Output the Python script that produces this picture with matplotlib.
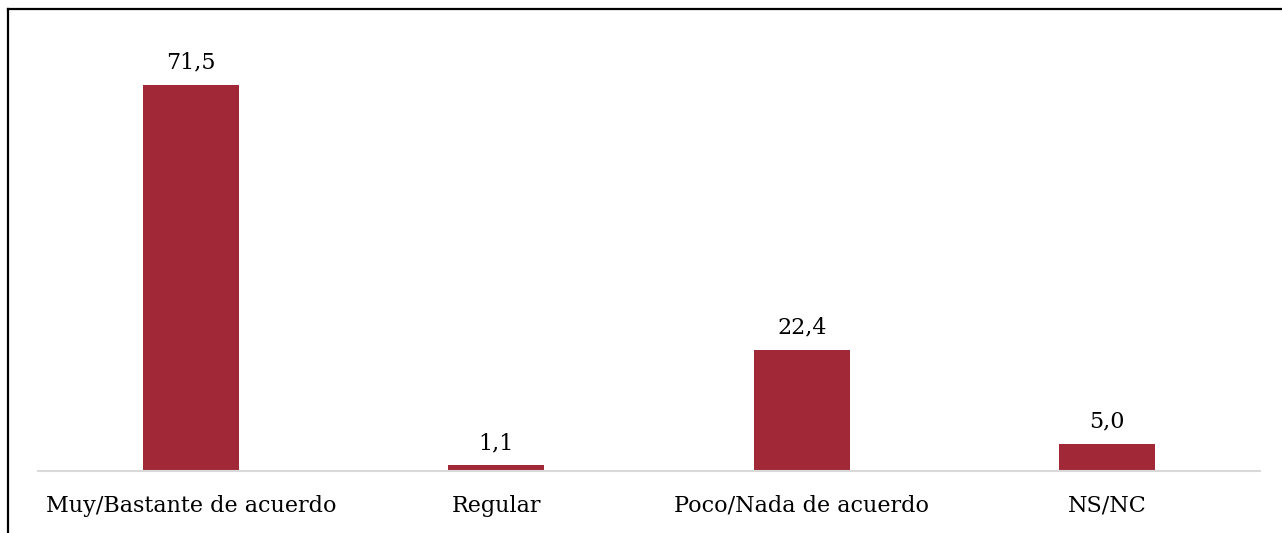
import matplotlib.pyplot as plt
from matplotlib.lines import Line2D

categories = ["Muy/Bastante de acuerdo", "Regular", "Poco/Nada de acuerdo", "NS/NC"]
values = [71.5, 1.1, 22.4, 5.0]
labels = ["71,5", "1,1", "22,4", "5,0"]

plt.rcParams['font.family'] = ['DejaVu Serif']

W, H = 1282, 533
fig = plt.figure(figsize=(W / 100, H / 100), dpi=100)
ax = fig.add_axes([38 / W, 1 - 471 / H, (1260 - 38) / W, (471 - 39) / H])

x = range(len(categories))
bars = ax.bar(x, values, width=0.315, color='#A02837')
ax.set_xlim(-0.5, len(categories) - 0.5)
ax.set_ylim(0, 80)

for b, lab in zip(bars, labels):
    ax.annotate(lab, (b.get_x() + b.get_width() / 2, b.get_height()),
                xytext=(0, 8), textcoords='offset points',
                ha='center', va='bottom', fontsize=16)

ax.set_xticks(list(x))
ax.set_xticklabels(categories, fontsize=16)
ax.tick_params(axis='x', length=0, pad=17)
ax.set_yticks([])
for s in ['left', 'right', 'top']:
    ax.spines[s].set_visible(False)
ax.spines['bottom'].set_color('#d9d9d9')
ax.spines['bottom'].set_linewidth(1.5)

# outer frame (left and top only)
fig.add_artist(Line2D([8 / W, 8 / W], [0, 1 - 9 / H], color='black', lw=1.6))
fig.add_artist(Line2D([8 / W, 1], [1 - 9 / H, 1 - 9 / H], color='black', lw=1.6))

fig.savefig('out.png', dpi=100)
